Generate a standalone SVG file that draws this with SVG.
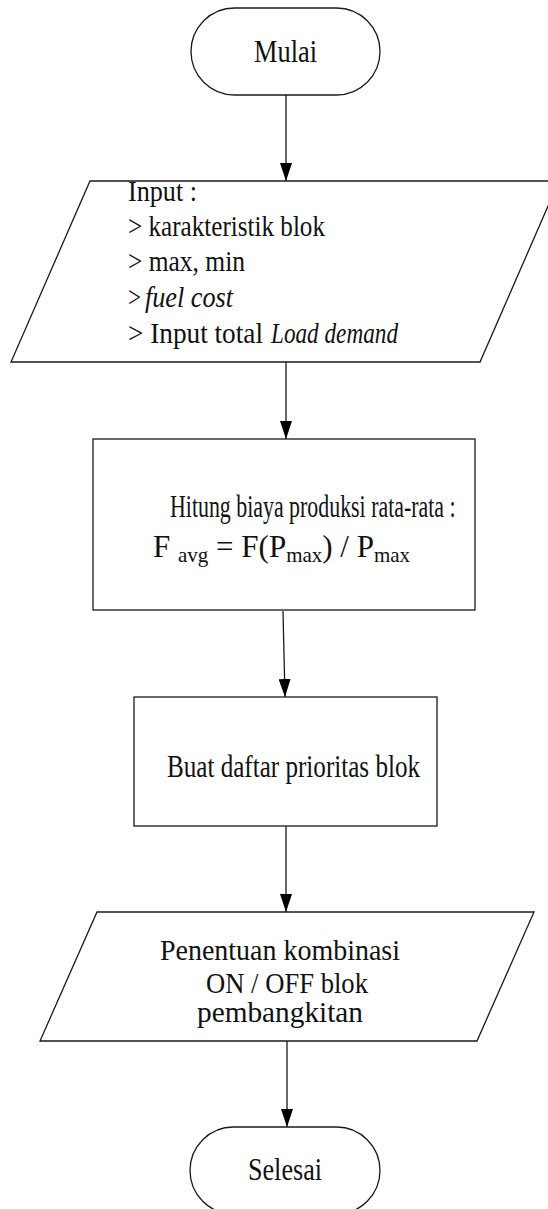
<svg xmlns="http://www.w3.org/2000/svg" width="548" height="1209" viewBox="0 0 548 1209">
<style>
.shape{fill:#fff;stroke:#1a1a1a;stroke-width:1.3}
.conn{fill:none;stroke:#1a1a1a;stroke-width:1.3}
.t{font-family:"Liberation Serif","Times New Roman",serif;font-size:31px;fill:#111}
.in{font-size:29px}
.sub{font-size:21px}
.it{font-style:italic}
</style>
<defs>
<marker id="arr" markerUnits="userSpaceOnUse" markerWidth="18" markerHeight="12" refX="18" refY="6" orient="auto">
<path d="M0,0 L18,6 L0,12 z" fill="#000"/>
</marker>
</defs>
<rect width="548" height="1209" fill="#fff"/>
<g id="connectors">
<line class="conn" x1="286" y1="95" x2="286" y2="181" marker-end="url(#arr)"/>
<line class="conn" x1="286" y1="362" x2="286" y2="439" marker-end="url(#arr)"/>
<line class="conn" x1="283" y1="611" x2="285" y2="697" marker-end="url(#arr)"/>
<line class="conn" x1="286" y1="826" x2="286" y2="912" marker-end="url(#arr)"/>
<line class="conn" x1="287" y1="1041" x2="287" y2="1127" marker-end="url(#arr)"/>
</g>
<g id="mulai">
<rect class="shape" x="191" y="8" width="189" height="87" rx="43.5" ry="43.5"/>
<text class="t" x="254" y="62" textLength="63" lengthAdjust="spacingAndGlyphs">Mulai</text>
</g>
<g id="input">
<polygon class="shape" points="90,181 559,181 480,362 11,362"/>
<text class="t in" x="128" y="201" textLength="69" lengthAdjust="spacingAndGlyphs">Input :</text>
<text class="t in" x="128" y="236" textLength="197" lengthAdjust="spacingAndGlyphs">&gt; karakteristik blok</text>
<text class="t in" x="128" y="271" textLength="117" lengthAdjust="spacingAndGlyphs">&gt; max, min</text>
<text class="t in" x="128" y="307" textLength="13" lengthAdjust="spacingAndGlyphs">&gt;</text>
<text class="t in it" x="145" y="307" textLength="88" lengthAdjust="spacingAndGlyphs">fuel cost</text>
<text class="t in" x="128" y="343" textLength="135" lengthAdjust="spacingAndGlyphs">&gt; Input total</text>
<text class="t in it" x="271" y="343" textLength="127" lengthAdjust="spacingAndGlyphs">Load demand</text>
</g>
<g id="hitung">
<rect class="shape" x="93" y="439" width="382" height="171"/>
<text class="t" font-size="30" transform="scale(0.706,1)" x="240.8" y="517">Hitung biaya produksi rata-rata :</text>
<text class="t" x="153" y="557">F <tspan class="sub" dy="5">avg</tspan><tspan dy="-5"> = F(P</tspan><tspan class="sub" dy="5">max</tspan><tspan dy="-5">) / P</tspan><tspan class="sub" dy="5">max</tspan></text>
</g>
<g id="buat">
<rect class="shape" x="134" y="697" width="303" height="129"/>
<text class="t" x="167" y="777" textLength="253" lengthAdjust="spacingAndGlyphs">Buat daftar prioritas blok</text>
</g>
<g id="penentuan">
<polygon class="shape" points="97,912 534,912 477,1041 40,1041"/>
<text class="t in" x="160" y="960" textLength="240" lengthAdjust="spacingAndGlyphs">Penentuan kombinasi</text>
<text class="t in" x="206" y="993" textLength="162" lengthAdjust="spacingAndGlyphs">ON / OFF blok</text>
<text class="t in" x="197" y="1022" textLength="166" lengthAdjust="spacingAndGlyphs">pembangkitan</text>
</g>
<g id="selesai">
<rect class="shape" x="190" y="1127" width="190" height="87" rx="43.5" ry="43.5"/>
<text class="t" x="248" y="1180" textLength="74" lengthAdjust="spacingAndGlyphs">Selesai</text>
</g>
</svg>
